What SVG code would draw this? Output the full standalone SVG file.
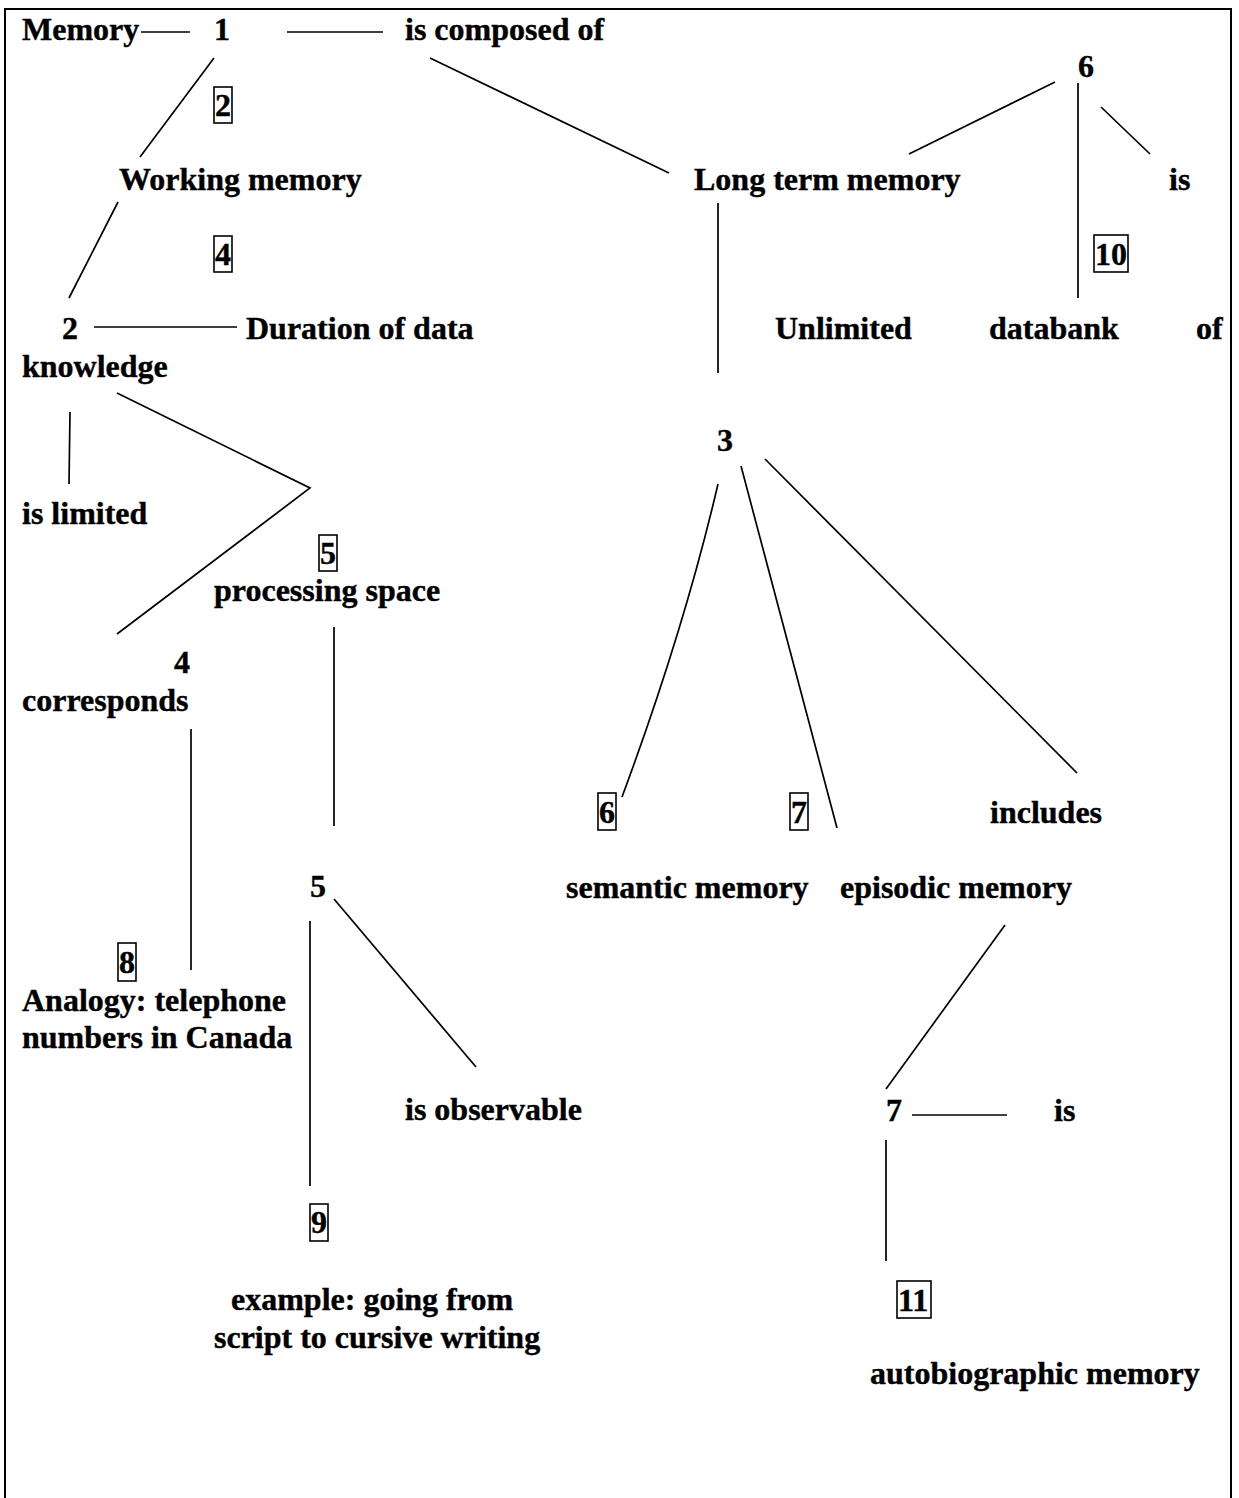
<svg xmlns="http://www.w3.org/2000/svg" width="1239" height="1498" viewBox="0 0 1239 1498">
<style>
text{font-family:"Liberation Serif","Times New Roman",serif;font-weight:bold;font-size:32px;fill:#000;stroke:#000;stroke-width:0.4}
.c line,.c polyline,.c path{stroke:#000;stroke-width:1.7;fill:none}
.bx{fill:none;stroke:#000;stroke-width:1.6}
.frame{fill:none;stroke:#000;stroke-width:2}
</style>
<rect width="1239" height="1498" fill="#fff"/>
<path class="frame" d="M5,1498 V9 H1231 V1498"/>
<g class="c" id="connectors">
<line x1="141" y1="32" x2="190" y2="32"/>
<line x1="287" y1="32" x2="383" y2="32"/>
<line x1="214" y1="58" x2="140" y2="157"/>
<line x1="430" y1="58" x2="669" y2="173"/>
<line x1="1055" y1="82" x2="909" y2="154"/>
<line x1="1078" y1="83" x2="1078" y2="298"/>
<line x1="1101" y1="107" x2="1150" y2="154"/>
<line x1="118" y1="202" x2="69" y2="298"/>
<line x1="94" y1="327" x2="237" y2="327"/>
<line x1="718" y1="203" x2="718" y2="373"/>
<line x1="70" y1="412" x2="69" y2="484"/>
<polyline points="117,393 310,488 117,634"/>
<line x1="334" y1="627" x2="334" y2="826"/>
<line x1="191" y1="729" x2="191" y2="970"/>
<path d="M718,484 Q684,630 622,797"/>
<line x1="741" y1="466" x2="837" y2="828"/>
<line x1="765" y1="459" x2="1077" y2="773"/>
<line x1="1005" y1="925" x2="886" y2="1089"/>
<line x1="334" y1="899" x2="476" y2="1067"/>
<line x1="310" y1="921" x2="310" y2="1186"/>
<line x1="912" y1="1115" x2="1007" y2="1115"/>
<line x1="886" y1="1140" x2="886" y2="1261"/>
</g>
<g id="n-memory"><text x="22" y="40">Memory</text></g>
<g id="n-1"><text x="214" y="40">1</text></g>
<g id="n-composed"><text x="405" y="40">is composed of</text></g>
<g id="n-box2"><rect class="bx" x="214" y="87" width="18" height="36"/><text x="215" y="116">2</text></g>
<g id="n-working"><text x="119" y="190">Working memory</text></g>
<g id="n-longterm"><text x="694" y="190">Long term memory</text></g>
<g id="n-6top"><text x="1078" y="77">6</text></g>
<g id="n-is-top"><text x="1169" y="190">is</text></g>
<g id="n-box4"><rect class="bx" x="214" y="236" width="18" height="36"/><text x="215" y="265">4</text></g>
<g id="n-box10"><rect class="bx" x="1094" y="235" width="34" height="37"/><text x="1095" y="265">10</text></g>
<g id="n-2"><text x="62" y="339">2</text></g>
<g id="n-duration"><text x="246" y="339">Duration of data</text></g>
<g id="n-unlimited"><text x="775" y="339">Unlimited</text></g>
<g id="n-databank"><text x="989" y="339">databank</text></g>
<g id="n-of"><text x="1196" y="339">of</text></g>
<g id="n-knowledge"><text x="22" y="377">knowledge</text></g>
<g id="n-3"><text x="717" y="451">3</text></g>
<g id="n-limited"><text x="22" y="524">is limited</text></g>
<g id="n-box5"><rect class="bx" x="319" y="535" width="18" height="36"/><text x="320" y="564">5</text></g>
<g id="n-processing"><text x="214" y="601">processing space</text></g>
<g id="n-4"><text x="174" y="673">4</text></g>
<g id="n-corresponds"><text x="22" y="711">corresponds</text></g>
<g id="n-box6"><rect class="bx" x="598" y="793" width="18" height="37"/><text x="599" y="823">6</text></g>
<g id="n-box7"><rect class="bx" x="790" y="793" width="18" height="37"/><text x="791" y="823">7</text></g>
<g id="n-includes"><text x="990" y="823">includes</text></g>
<g id="n-semantic"><text x="566" y="898">semantic memory</text></g>
<g id="n-episodic"><text x="840" y="898">episodic memory</text></g>
<g id="n-5"><text x="310" y="897">5</text></g>
<g id="n-box8"><rect class="bx" x="118" y="943" width="18" height="38"/><text x="119" y="973">8</text></g>
<g id="n-analogy"><text x="22" y="1011">Analogy: telephone</text><text x="22" y="1048">numbers in Canada</text></g>
<g id="n-observable"><text x="405" y="1120">is observable</text></g>
<g id="n-7"><text x="886" y="1121">7</text></g>
<g id="n-is-bottom"><text x="1054" y="1121">is</text></g>
<g id="n-box9"><rect class="bx" x="310" y="1204" width="18" height="37"/><text x="311" y="1233">9</text></g>
<g id="n-box11"><rect class="bx" x="897" y="1281" width="34" height="37"/><text x="898" y="1311">11</text></g>
<g id="n-example"><text x="231" y="1310">example: going from</text><text x="214" y="1348">script to cursive writing</text></g>
<g id="n-autobio"><text x="870" y="1384">autobiographic memory</text></g>
</svg>
